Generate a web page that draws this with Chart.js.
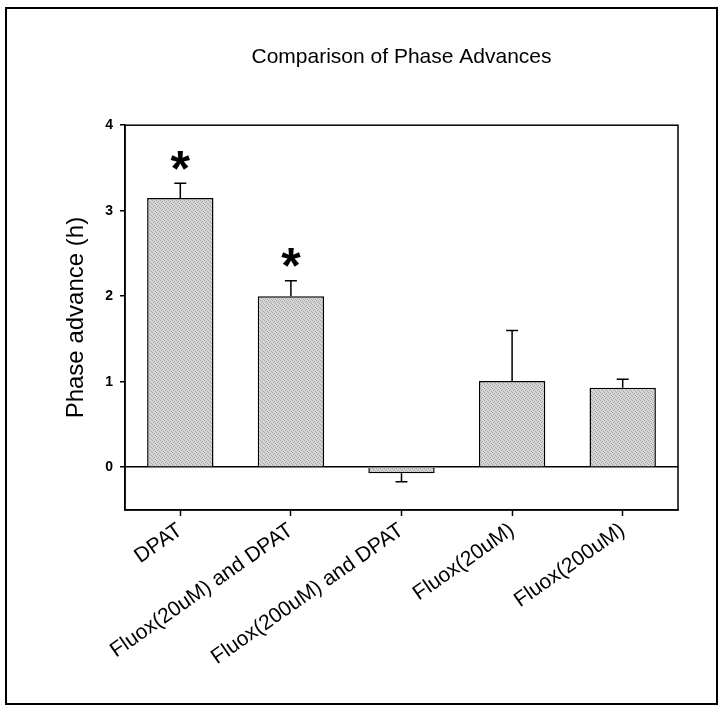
<!DOCTYPE html>
<html lang="en">
<head>
<meta charset="UTF-8">
<title>Comparison of Phase Advances</title>
<script src="https://cdn.jsdelivr.net/npm/chart.js@4.4.0/dist/chart.umd.min.js"></script>
<style>
    body { margin: 0; background: #fff; }
    .chart-box { position: relative; width: 723px; height: 710px; }
</style>
</head>
<body>
<div class="chart-box"><canvas id="phaseChart" width="723" height="710"></canvas></div>
<script>
// values
const groups = ['DPAT', 'Fluox(20uM) and DPAT', 'Fluox(200uM) and DPAT', 'Fluox(20uM)', 'Fluox(200uM)'];
const phaseAdvance = [3.15, 2.0, -0.07, 1.01, 0.93];
const stdError = [0.17, 0.18, 0.10, 0.59, 0.10];
const significant = [true, true, false, false, false];
const yTicks = [0, 1, 2, 3, 4];

const FONT = "'Liberation Sans', Arial, sans-serif";

// halftone-ish grey fill like the scanned bars
function stipple() {
    const c = document.createElement('canvas');
    c.width = 4; c.height = 4;
    const g = c.getContext('2d');
    g.fillStyle = '#d6d6d6';
    g.fillRect(0, 0, 4, 4);
    g.fillStyle = '#a4a4a4';
    [[0, 0], [2, 1], [1, 2], [3, 3]].forEach(([px, py]) => g.fillRect(px, py, 1, 1));
    return g.createPattern(c, 'repeat');
}

const extras = {
    id: 'extras',
    afterDatasetsDraw(chart) {
        const { ctx, chartArea: a, scales: { x, y } } = chart;
        ctx.save();
        ctx.strokeStyle = '#000';
        ctx.fillStyle = '#000';
        ctx.lineWidth = 1.5;

        // error bars (one-sided, away from zero) and significance stars
        phaseAdvance.forEach((v, i) => {
            const px = x.getPixelForValue(i);
            const tip = v + Math.sign(v) * stdError[i];
            const y0 = y.getPixelForValue(v);
            const y1 = y.getPixelForValue(tip);
            ctx.beginPath();
            ctx.moveTo(px, y0);
            ctx.lineTo(px, y1);
            ctx.moveTo(px - 6, y1);
            ctx.lineTo(px + 6, y1);
            ctx.stroke();

            if (significant[i]) {
                ctx.font = 'bold 50px ' + FONT;
                ctx.textAlign = 'center';
                ctx.textBaseline = 'alphabetic';
                const m = ctx.measureText('*');
                const cy = y1 - 23;
                ctx.fillText('*', px, cy + (m.actualBoundingBoxAscent - m.actualBoundingBoxDescent) / 2);
            }
        });

        // plot frame
        ctx.lineWidth = 1.5;
        ctx.strokeRect(a.left, a.top, a.width, a.height);

        // outer figure frame
        ctx.lineWidth = 2;
        ctx.strokeRect(6, 8, 711, 696);
        ctx.restore();
    }
};

new Chart(document.getElementById('phaseChart'), {
    type: 'bar',
    data: {
        labels: groups,
        datasets: [{
            data: phaseAdvance,
            backgroundColor: stipple(),
            borderColor: '#000',
            borderWidth: 1.5,
            barPercentage: 0.6,
            categoryPercentage: 1.0
        }]
    },
    plugins: [extras],
    options: {
        responsive: false,
        animation: false,
        devicePixelRatio: 1,
        layout: { padding: { top: 45, left: 62, right: 45, bottom: 0 } },
        plugins: {
            legend: { display: false },
            tooltip: { enabled: false },
            title: {
                display: true,
                fullSize: false,
                text: 'Comparison of Phase Advances',
                color: '#000',
                font: { family: FONT, size: 21, weight: 'normal' },
                padding: { top: 0, bottom: 55 }
            }
        },
        scales: {
            x: {
                afterFit: s => { s.height = 200; },
                grid: {
                    offset: false,
                    drawOnChartArea: false,
                    tickLength: 6,
                    tickColor: '#000',
                    tickWidth: 1.5
                },
                border: { color: '#000', width: 1.5 },
                ticks: {
                    color: '#000',
                    font: { family: FONT, size: 21 },
                    minRotation: 35,
                    maxRotation: 35,
                    autoSkip: false,
                    padding: 2
                }
            },
            y: {
                min: -0.5,
                max: 4,
                afterFit: s => { s.width = 63; },
                afterBuildTicks: s => { s.ticks = yTicks.map(v => ({ value: v })); },
                grid: {
                    color: c => (c.tick && c.tick.value === 0 ? '#000' : 'rgba(0,0,0,0)'),
                    lineWidth: 1.5,
                    tickLength: 5,
                    tickColor: '#000',
                    tickWidth: 1.5
                },
                border: { color: '#000', width: 1.5 },
                ticks: {
                    color: '#000',
                    font: { family: FONT, size: 14, weight: 'bold' },
                    padding: 7
                },
                title: {
                    display: true,
                    text: 'Phase advance (h)',
                    color: '#000',
                    font: { family: FONT, size: 24 },
                    padding: 0
                }
            }
        }
    }
});
</script>
</body>
</html>
